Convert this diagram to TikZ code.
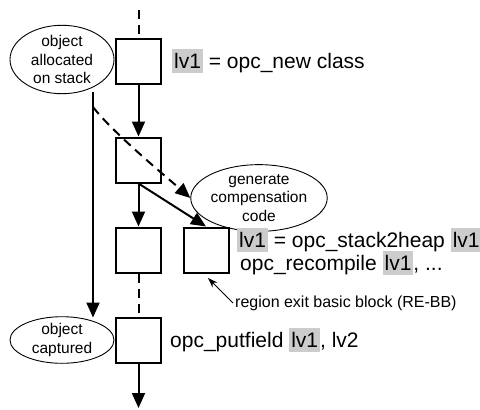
\documentclass[tikz,border=0pt]{standalone}
\usepackage{fontspec}
\setmainfont{Liberation Sans}
\usetikzlibrary{shapes.geometric,arrows.meta}
\definecolor{hlgray}{HTML}{CCCCCC}
\newcommand\hlv[1]{{\setlength\fboxsep{0pt}\colorbox{hlgray}{\vrule height 19.5pt depth 5pt width 0pt\hspace{2pt}#1\hspace{2pt}}}}
\tikzset{
  blk/.style={draw, line width=2pt, minimum width=45pt, minimum height=45pt, inner sep=0pt},
  ell/.style={draw, ellipse, line width=0.9pt, inner sep=0pt, align=center, font=\fontsize{15.5}{18.5}\selectfont},
  flow/.style={line width=2pt, -{Triangle[length=15pt,width=13pt]}},
  dsh/.style={line width=2pt, dash pattern=on 9pt off 6pt},
  code/.style={inner sep=0pt, anchor=base west, font=\fontsize{21}{24}\selectfont},
  note/.style={inner sep=2pt, anchor=west, font=\fontsize{16}{18}\selectfont},
  pointer/.style={line width=1pt, -{Stealth[length=10pt,width=7pt]}}
}
\begin{document}
\begin{tikzpicture}[x=1pt,y=-1pt]
\useasboundingbox[fill=white] (0,0) rectangle (480,410);
% blocks
\node[blk] (b1) at (138.5,61.5) {};
\node[blk] (b2) at (138.5,160) {};
\node[blk] (b3) at (138.5,250) {};
\node[blk] (b4) at (206,250) {};
\node[blk] (b5) at (138.5,340.5) {};
% ellipses
\node[ell, minimum width=104pt, minimum height=57pt] (alloc) at (62,59.5) {object\\allocated\\on stack};
\node[ell, minimum width=118pt, minimum height=57pt] (gen) at (259,198) {generate\\compensation\\code};
\node[ell, minimum width=104pt, minimum height=45pt] (capt) at (62,340) {object\\captured};
% code texts
\node[code] (t1) at (172,68) {\hlv{lv1} = opc\_new class};
\node[code] (t2) at (237,247) {\hlv{lv1} = opc\_stack2heap \hlv{lv1}};
\node[code] (t3) at (240,270) {opc\_recompile \hlv{lv1}, ...};
\node[code] (t5) at (170,347) {opc\_putfield \hlv{lv1}, lv2};
\node[note] (rebb) at (233,303) {region exit basic block (RE-BB)};
% coordinates
\coordinate (top) at (138.5,10);
\coordinate (bot) at (138.5,408);
\coordinate (v1) at (93,92);
\coordinate (v2) at (93,317.5);
\coordinate (d0) at (93,107);
\coordinate (tip) at (208,278);
% connectors
\draw[dsh] (top) -- (b1.north);
\draw[flow] (b1.south) -- (b2.north);
\draw[flow] (b2.south) -- (b3.north);
\draw[flow] (b2.south) -- (b4.north);
\draw[dsh] (b3.south) -- (b5.north);
\draw[flow] (b5.south) -- (bot);
\draw[flow] (v1) -- (v2);
\draw[dsh, -{Triangle[length=15pt,width=13pt]}] (d0) .. controls (113,133) and (170,180) .. (gen.west);
\draw[pointer] (rebb.west) -- (tip);
\end{tikzpicture}
\end{document}
